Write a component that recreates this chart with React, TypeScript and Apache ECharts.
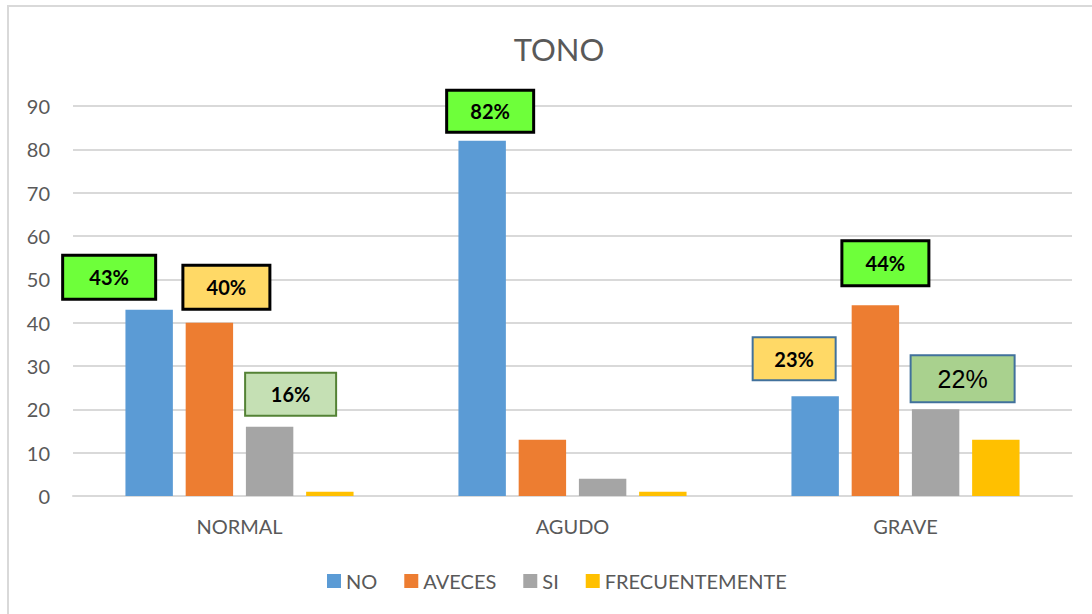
import React, { useEffect, useRef } from "react";
import * as echarts from "echarts";

const categories = ["NORMAL", "AGUDO", "GRAVE"];
const seriesNames = ["NO", "AVECES", "SI", "FRECUENTEMENTE"];
const noValues = [43, 82, 23];
const avecesValues = [40, 13, 44];
const siValues = [16, 4, 20];
const frecValues = [1, 1, 13];
const noLabels = ["43%", "82%", "23%"];
const avecesLabels = ["40%", "", "44%"];
const siLabels = ["16%", "", "22%"];
const yTicks = [0, 10, 20, 30, 40, 50, 60, 70, 80, 90];

const colors = ["#5B9BD5", "#ED7D31", "#A5A5A5", "#FFC000"];
const FONT = "Lato, 'Open Sans', sans-serif";

type Box = { dx: number; dist: number; w: number; h: number; bg: string; border: string; bw: number; bold: boolean; size: number };
const GREEN: [string, string] = ["#6EFF3A", "#000000"];
const boxStyles: Record<string, Box> = {
  "0-0": { dx: -40, dist: 12, w: 90, h: 41, bg: GREEN[0], border: GREEN[1], bw: 3, bold: true, size: 20 },
  "1-0": { dx: 17, dist: 15, w: 84, h: 41, bg: "#FFD966", border: "#000000", bw: 3, bold: true, size: 20 },
  "2-0": { dx: 21, dist: 12, w: 89, h: 41, bg: "#C5E0B4", border: "#548235", bw: 2, bold: true, size: 20 },
  "0-1": { dx: 8, dist: 10, w: 84, h: 39, bg: GREEN[0], border: GREEN[1], bw: 3, bold: true, size: 20 },
  "0-2": { dx: -21, dist: 17, w: 81, h: 41, bg: "#FFD966", border: "#41719C", bw: 2, bold: true, size: 20 },
  "1-2": { dx: 10, dist: 21, w: 84, h: 42, bg: GREEN[0], border: GREEN[1], bw: 3, bold: true, size: 20 },
  "2-2": { dx: 27, dist: 8, w: 102, h: 45, bg: "#A9D18E", border: "#41719C", bw: 2, bold: false, size: 25 },
};

function buildData(values: number[], labels: string[] | null, si: number) {
  return values.map((v, ci) => {
    const key = `${si}-${ci}`;
    const b = boxStyles[key];
    if (!labels || !labels[ci] || !b) return { value: v };
    return {
      value: v,
      label: {
        show: true,
        position: "top",
        distance: b.dist,
        offset: [b.dx, 0],
        formatter: labels[ci],
        backgroundColor: b.bg,
        borderColor: b.border,
        borderWidth: b.bw,
        width: b.w,
        height: b.h,
        lineHeight: b.h,
        padding: 0,
        color: "#000000",
        fontFamily: b.bold ? FONT : "'Liberation Sans', sans-serif",
        fontWeight: b.bold ? "bold" : "normal",
        fontSize: b.size,
      },
    };
  });
}

export default function App() {
  const ref = useRef<HTMLDivElement>(null);
  useEffect(() => {
    if (!ref.current) return;
    const chart = echarts.init(ref.current, null, { renderer: "svg" });
    const allValues = [noValues, avecesValues, siValues, frecValues];
    const allLabels = [noLabels, avecesLabels, siLabels, null];
    chart.setOption({
      animation: false,
      title: {
        text: "TONO",
        left: 554,
        textAlign: "center",
        top: 28,
        textStyle: { fontFamily: FONT, fontSize: 31, fontWeight: "normal", color: "#595959" },
      },
      graphic: [
        {
          type: "rect",
          shape: { x: 8, y: 6, width: 1200, height: 700 },
          style: { fill: "none", stroke: "#D9D9D9", lineWidth: 2 },
          silent: true,
        },
      ],
      legend: {
        data: seriesNames,
        top: 566,
        left: 322,
        itemWidth: 14,
        itemHeight: 14,
        itemGap: 27,
        icon: "rect",
        textStyle: { fontFamily: FONT, fontSize: 20, color: "#595959" },
      },
      grid: { left: 73, right: 20, top: 106, bottom: 118 },
      xAxis: {
        type: "category",
        data: categories,
        axisTick: { show: false },
        axisLine: { lineStyle: { color: "#D9D9D9", width: 2 } },
        axisLabel: { fontFamily: FONT, fontSize: 20, color: "#595959", margin: 20 },
      },
      yAxis: {
        type: "value",
        min: yTicks[0],
        max: yTicks[yTicks.length - 1],
        interval: 10,
        axisLabel: { fontFamily: FONT, fontSize: 20, color: "#595959", margin: 23 },
        splitLine: { lineStyle: { color: "#D9D9D9", width: 2 } },
        axisLine: { show: false },
        axisTick: { show: false },
      },
      series: seriesNames.map((name, si) => ({
        name,
        type: "bar",
        barGap: "27%",
        barCategoryGap: "31.5%",
        itemStyle: { color: colors[si] },
        data: buildData(allValues[si], allLabels[si], si),
      })),
    });
    return () => chart.dispose();
  }, []);
  return <div ref={ref} style={{ position: "fixed", left: 0, top: 0, width: 1092, height: 614, background: "#fff" }} />;
}
